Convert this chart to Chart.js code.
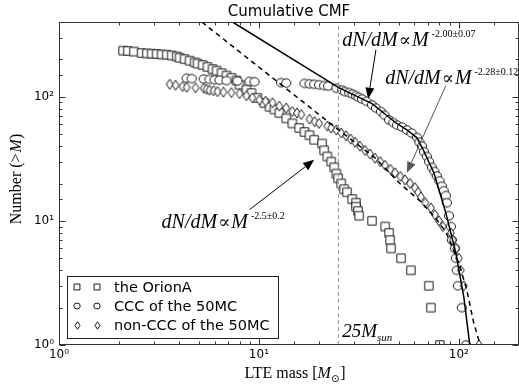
<!DOCTYPE html>
<html><head><meta charset="utf-8">
<script src="https://cdn.jsdelivr.net/npm/chart.js@4.4.1/dist/chart.umd.min.js"></script>
<style>
html,body{margin:0;padding:0;overflow:hidden;background:#fff;}
#wrap{position:relative;width:525px;height:385px;}
</style></head><body>
<div id="wrap"><canvas id="c" width="525" height="385"></canvas></div>
<script>
// ---------- data ----------
const orionMass = [2.09,2.21,2.37,2.59,2.75,2.91,3.08,3.26,3.46,3.66,3.88,4.01,4.25,4.50,4.77,4.93,5.23,5.53,5.86,6.14,6.50,6.88,7.29,7.72,8.00,8.66,9.18,9.83,10.65,11.3,11.95,12.65,13.7,14.7,15.9,16.9,17.9,18.9,20.7,21.2,22.0,23.0,23.8,24.4,24.9,25.8,26.7,27.6,29.3,30.6,30.6,31.3,31.7,36.8,42.8,44.8,45.3,45.8,51.4,57.6,70.8,72.5,80.4];
const orionNumber = [235,234,231,225,223,222,221,219,218,215,211,206,201,195,189,185,180,174,167,162,155,148,142,135,125,114,107,98,89,83,79,74,67,61,56,52,49,45,42,37,33,30,27,24,22,20,18,17,15,14,13,12,11,10,9,8,7,6,5,4,3,2,1];

const cccMass = [4.35,4.61,5.29,5.66,6.00,6.35,6.88,7.81,8.97,9.50,12.9,13.7,16.9,17.9,18.9,20.0,21.2,22.2,24.4,26.1,26.9,28.3,29.4,30.6,31.5,32.8,34.5,36.8,38.5,40.8,42.5,44.8,47.0,49.1,52.0,55.0,58.0,61.8,63.5,65.4,67.0,69.2,71.0,73.3,75.5,77.6,80.0,82.3,84.0,86.1,87.1,89.2,91.2,92.3,95.5,96.6,97.7,98.9,103.5,108.4];
const cccNumber = [141,140,139,138,137,136,135,134,133,132,130,129,128,127,126,125,123,122,117,113,110,108,105,102,99,96,92,86,81,76,71,65,62,59,57,54,51,47,43,40,36,33,30,27,25,23,21,19,17.5,16,14,11,9,7,6,5,4,3,2,1];

const nonCccMass = [3.58,3.83,4.15,4.35,4.82,5.29,5.47,5.66,5.93,6.21,6.65,7.29,8.0,8.66,9.28,10.06,10.8,11.7,12.65,13.7,14.7,15.5,16.3,17.9,19.0,20.0,22.0,23.0,24.4,25.8,27.3,28.8,30.3,32.0,34.0,36.0,38.1,40.5,42.8,45.5,48.0,51.0,53.8,57.0,60.4,62.5,64.6,68.0,72.5,75.9,79.5,83.2,91.2,93.3,97.0,100,102.3,105.9,126];
const nonCccNumber = [126,124,121,119,118,117,115,113,112,110,109,108,106,102,98,94,92,89.5,84,81,76,74,72,66,63,61,58,56,54,51,48.5,45.5,43,40,37,34.5,32,30,28,26,24.4,22.8,21.4,20,18.5,17,15.6,14,12.7,11.2,10,9,8,7,6,5,4,3,1];

const fitCccMass = [7.38,25.2,36.8,49.1,55.0,61.8,66.0,75.0,86.1,96.6,105.9,113.5];
const fitCccNumber = [400,118,88,60.6,54,46.7,38,24.4,11.6,5.52,2.44,1];

const fitNonCccMass = [5.18,23.2,38.1,50.2,65.4,77.6,86.1,100,109.6,118.8,128];
const fitNonCccNumber = [400,59.4,32.2,20.3,14.0,10.2,8.15,4.59,2.78,1.5,1];

const cutMass = [25,25];
const cutNumber = [1,400];

const seriesLabels = ['the OrionA','CCC of the 50MC','non-CCC of the 50MC'];
const tickValues = [1,10,100];
const tickLabels = ['10\u2070','10\u00B9','10\u00B2'];
const titleText = 'Cumulative CMF';
const fitExponents = ['-2.00\u00B10.07','-2.28\u00B10.12','-2.5\u00B10.2'];

// ---------- helpers ----------
const toXY = (xs, ys) => xs.map((x,i)=>({x:x, y:ys[i]}));
const SERIF = '"Liberation Serif","DejaVu Serif",serif';
const SANS = '"DejaVu Sans",sans-serif';

function makeMarker(kind, scale){
  const s = Math.ceil(14*scale)+2;
  const c = document.createElement('canvas');
  c.width = s; c.height = s;
  const g = c.getContext('2d');
  const m = s/2;
  g.lineWidth = 1; g.strokeStyle = '#1a1a1a'; g.fillStyle = '#fff';
  g.beginPath();
  if(kind==='square'){ const h=4.2*scale; g.rect(m-h,m-h,2*h,2*h); }
  else if(kind==='circle'){ g.ellipse(m,m,4.6*scale,4.2*scale,0,0,Math.PI*2); }
  else { const w=3.4*scale,h=5*scale; g.moveTo(m,m-h); g.lineTo(m+w,m); g.lineTo(m,m+h); g.lineTo(m-w,m); g.closePath(); }
  g.fill(); g.stroke();
  return c;
}
const markers = [makeMarker('square',1), makeMarker('circle',1), makeMarker('diamond',1)];
const legendMarkers = [makeMarker('square',0.7), makeMarker('circle',0.7), makeMarker('diamond',0.75)];

function labelFor(v){
  const i = tickValues.findIndex(t=>Math.abs(t-v)<1e-9);
  return i>=0 ? tickLabels[i] : '';
}
function isMajor(v){ const e=Math.log10(v); return Math.abs(e-Math.round(e))<1e-9; }

function drawRuns(ctx, x, y, runs){
  let cx = x;
  runs.forEach(r=>{
    ctx.font = r.font;
    ctx.fillText(r.text, cx, y + (r.dy||0));
    cx += ctx.measureText(r.text).width + (r.gap||0);
  });
  return cx;
}
function runsWidth(ctx, runs){
  let w=0; runs.forEach(r=>{ctx.font=r.font; w+=ctx.measureText(r.text).width+(r.gap||0);}); return w;
}

// annotation anchors in data coordinates
const labelAnchors = [[26.1,258],[42.8,127],[3.26,8.78]];
const arrowDefs = [
  {from:[38.5,239], to:[35.2,96.4], color:'#000'},
  {from:[86.1,122.7], to:[55.0,24.4], color:'#555'},
  {from:[8.97,12.3], to:[18.9,31.0], color:'#000'}
];
const cutLabelAnchor = [26.1,1.16];

// ---------- plugins ----------
const framePlugin = {
  id:'frame',
  afterDraw(chart){
    const {ctx, chartArea:a, scales:{x,y}} = chart;
    ctx.save();
    ctx.strokeStyle = '#333'; ctx.lineWidth = 1;
    const L=Math.round(a.left)+0.5, R=Math.round(a.right)-0.5, T=Math.round(a.top)+0.5, B=Math.round(a.bottom)-0.5;
    ctx.strokeRect(L,T,R-L,B-T);
    ctx.beginPath();
    x.ticks.forEach(t=>{
      const px = Math.round(x.getPixelForValue(t.value))+0.5;
      if(px<L-1||px>R+1) return;
      const len = isMajor(t.value)?6:3;
      ctx.moveTo(px,B); ctx.lineTo(px,B-len);
      ctx.moveTo(px,T); ctx.lineTo(px,T+len);
    });
    y.ticks.forEach(t=>{
      const py = Math.round(y.getPixelForValue(t.value))+0.5;
      if(py<T-1||py>B+1) return;
      const len = isMajor(t.value)?6:3;
      ctx.moveTo(L,py); ctx.lineTo(L+len,py);
      ctx.moveTo(R,py); ctx.lineTo(R-len,py);
    });
    ctx.stroke();

    // axis titles
    ctx.fillStyle = '#000';
    ctx.textBaseline = 'alphabetic';
    const xr = [
      {text:'LTE mass [', font:'16px '+SERIF},
      {text:'M', font:'italic 16px '+SERIF},
      {text:'\u2299', font:'10px '+'"DejaVu Sans"', dy:4, gap:1},
      {text:']', font:'16px '+SERIF}
    ];
    const xw = runsWidth(ctx,xr);
    drawRuns(ctx, (a.left+a.right)/2 + 6 - xw/2, 378, xr);
    ctx.save();
    ctx.translate(21, 179);
    ctx.rotate(-Math.PI/2);
    const yr = [
      {text:'Number (', font:'16px '+SERIF},
      {text:'>', font:'16px '+SERIF, gap:1},
      {text:'M', font:'italic 16px '+SERIF},
      {text:')', font:'16px '+SERIF}
    ];
    drawRuns(ctx, -runsWidth(ctx,yr)/2, 0, yr);
    ctx.restore();

    // legend
    const x0 = a.left+8, y1 = a.bottom-7, h = 62, w = 211, y0 = y1-h;
    ctx.fillStyle='#fff';
    ctx.fillRect(Math.round(x0)+0.5, Math.round(y0)+0.5, w, h);
    ctx.strokeStyle='#222';
    ctx.strokeRect(Math.round(x0)+0.5, Math.round(y0)+0.5, w, h);
    ctx.fillStyle='#000';
    ctx.font = '14.5px '+SANS;
    ctx.textBaseline='middle';
    seriesLabels.forEach((lab,i)=>{
      const cy = y0 + 11 + i*19;
      const mk = legendMarkers[i];
      ctx.drawImage(mk, Math.round(x0+10-mk.width/2), Math.round(cy-mk.height/2));
      ctx.drawImage(mk, Math.round(x0+30-mk.width/2), Math.round(cy-mk.height/2));
      ctx.fillText(lab, x0+47, cy+1);
    });
    ctx.restore();
  },
  afterDatasetsDraw(chart){
    const {ctx, scales:{x,y}} = chart;
    ctx.save();
    ctx.fillStyle='#000';
    ctx.textBaseline='alphabetic';
    labelAnchors.forEach((p,i)=>{
      const px = x.getPixelForValue(p[0]), py = y.getPixelForValue(p[1]);
      drawRuns(ctx, px, py, [
        {text:'dN/dM', font:'italic 20px '+SERIF, gap:1},
        {text:'\u221D', font:'18px "DejaVu Serif"', gap:1},
        {text:'M', font:'italic 20px '+SERIF, gap:3},
        {text:fitExponents[i], font:'10px '+SERIF, dy:-9}
      ]);
    });
    // 25 M_sun
    const cp = [x.getPixelForValue(cutLabelAnchor[0]), y.getPixelForValue(cutLabelAnchor[1])];
    drawRuns(ctx, cp[0], cp[1], [
      {text:'25', font:'italic 19px '+SERIF},
      {text:'M', font:'italic 19px '+SERIF},
      {text:'sun', font:'italic 11px '+SERIF, dy:4}
    ]);
    // arrows
    arrowDefs.forEach(d=>{
      const x1=x.getPixelForValue(d.from[0]), y1=y.getPixelForValue(d.from[1]);
      const x2=x.getPixelForValue(d.to[0]), y2=y.getPixelForValue(d.to[1]);
      const ang=Math.atan2(y2-y1,x2-x1), hl=11, hw=4.5;
      const bx=x2-hl*Math.cos(ang), by=y2-hl*Math.sin(ang);
      ctx.strokeStyle=d.color; ctx.fillStyle=d.color; ctx.lineWidth=1;
      ctx.beginPath(); ctx.moveTo(x1,y1); ctx.lineTo(bx,by); ctx.stroke();
      ctx.beginPath();
      ctx.moveTo(x2,y2);
      ctx.lineTo(bx+hw*Math.sin(ang), by-hw*Math.cos(ang));
      ctx.lineTo(bx-hw*Math.sin(ang), by+hw*Math.cos(ang));
      ctx.closePath(); ctx.fill();
    });
    ctx.restore();
  }
};

// ---------- chart ----------
const pointSet = (label, xs, ys, idx, order) => ({
  type:'scatter', label, data:toXY(xs,ys), showLine:false,
  pointStyle:markers[idx], pointRadius:5, pointHoverRadius:5, order
});

new Chart(document.getElementById('c'), {
  type:'scatter',
  data:{ datasets:[
    {type:'line', label:'fit CCC', data:toXY(fitCccMass,fitCccNumber), borderColor:'#000', borderWidth:1.5, pointRadius:0, fill:false, tension:0, order:0},
    {type:'line', label:'fit non-CCC', data:toXY(fitNonCccMass,fitNonCccNumber), borderColor:'#000', borderWidth:1.5, borderDash:[5,4], pointRadius:0, fill:false, tension:0, order:0},
    {type:'line', label:'25 Msun', data:toXY(cutMass,cutNumber), borderColor:'#999', borderWidth:1, borderDash:[4,3], pointRadius:0, fill:false, order:0},
    pointSet(seriesLabels[2], nonCccMass, nonCccNumber, 2, 1),
    pointSet(seriesLabels[1], cccMass, cccNumber, 1, 2),
    pointSet(seriesLabels[0], orionMass, orionNumber, 0, 3)
  ]},
  options:{
    responsive:false, animation:false, devicePixelRatio:1,
    layout:{padding:{left:0,right:4,top:0,bottom:0}},
    plugins:{
      legend:{display:false}, tooltip:{enabled:false},
      title:{display:true, text:titleText, fullSize:false, color:'#000',
             font:{family:'DejaVu Sans', size:15, weight:'normal', lineHeight:1.2}, padding:{top:3,bottom:1}}
    },
    scales:{
      x:{type:'logarithmic', min:1, max:200, position:'bottom',
         grid:{display:false, drawTicks:false}, border:{display:false},
         ticks:{autoSkip:false, maxRotation:0, padding:3, color:'#000', font:{family:'DejaVu Sans', size:12}, callback:(v)=>labelFor(v)},
         afterFit:(s)=>{s.height=40;}},
      y:{type:'logarithmic', min:1, max:400, position:'left',
         grid:{display:false, drawTicks:false}, border:{display:false},
         ticks:{autoSkip:false, padding:5, color:'#000', font:{family:'DejaVu Sans', size:12}, callback:(v)=>labelFor(v)},
         afterFit:(s)=>{s.width=59;}}
    }
  },
  plugins:[framePlugin]
});
</script>
</body></html>
